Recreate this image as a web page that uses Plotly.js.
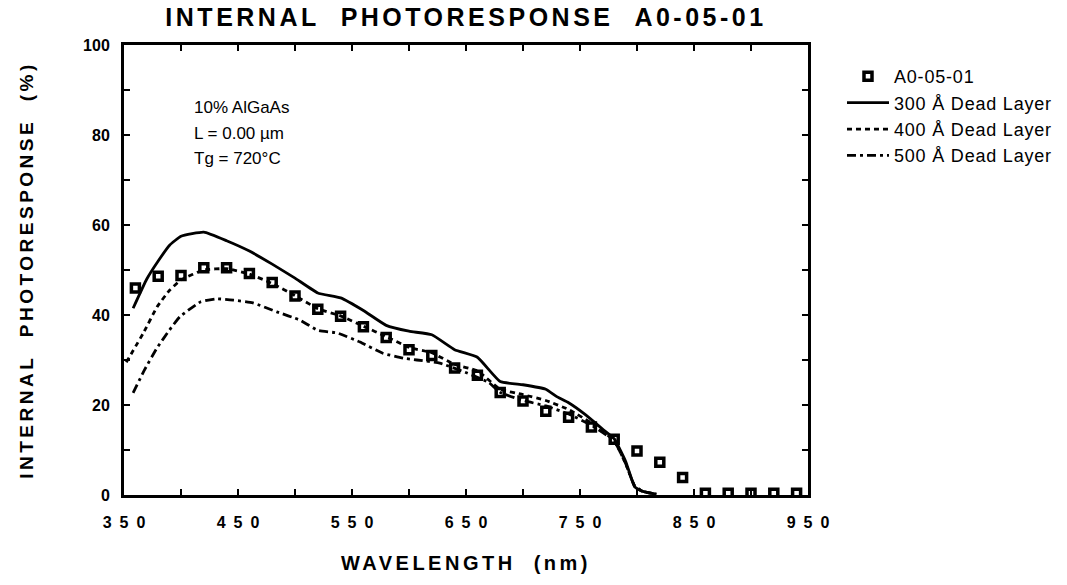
<!DOCTYPE html>
<html>
<head>
<meta charset="utf-8">
<script src="https://cdn.plot.ly/plotly-3.0.1.min.js"></script>
<style>
  html, body { margin: 0; padding: 0; background: #fff; }
  #chart { width: 1067px; height: 585px; }
  .gtitle { letter-spacing: 3.5px; }
  .xtitle, .ytitle { letter-spacing: 3.5px; }
  .legendtext { letter-spacing: 0.8px; }
</style>
</head>
<body>
<div id="chart"></div>
<script>
// ---- Data ----
const measWavelength = [360, 380, 400, 420, 440, 460, 480, 500, 520, 540, 560, 580, 600, 620, 640,
                        660, 680, 700, 720, 740, 760, 780, 800, 820, 840, 860, 880, 900, 920, 940];
const measResponse   = [46.0, 48.6, 48.8, 50.5, 50.5, 49.2, 47.2, 44.2, 41.3, 39.7, 37.4, 35.0, 32.3, 31.0, 28.2,
                        26.6, 22.8, 20.9, 18.6, 17.3, 15.1, 12.4, 9.8, 7.3, 3.9, 0.4, 0.4, 0.4, 0.4, 0.4];

const wl300 = [358, 370, 380, 390, 400, 420, 440, 460, 480, 500, 520, 540, 560, 580, 600, 620, 640,
               660, 680, 700, 720, 730, 740, 755, 770, 780, 790, 798, 805, 817];
const dl300 = [41.5, 48.0, 52.0, 55.5, 57.5, 58.4, 56.5, 54.2, 51.3, 48.2, 44.9, 43.8, 41.0, 37.7, 36.4, 35.6, 32.3,
               30.6, 25.2, 24.5, 23.5, 21.8, 20.5, 17.8, 14.6, 12.5, 7.5, 1.8, 0.8, 0.2];

const wl400 = [352, 367, 379, 390, 400, 420, 440, 460, 480, 500, 520, 540, 560, 580, 600, 620, 640,
               660, 680, 700, 720, 740, 760, 780, 790, 798, 805, 817];
const dl400 = [29.5, 36.0, 41.8, 45.5, 47.8, 50.0, 50.3, 49.1, 47.0, 44.3, 41.4, 39.8, 37.5, 35.2, 32.8, 31.6, 29.0,
               27.6, 23.5, 22.3, 21.0, 19.0, 16.0, 12.0, 7.0, 2.0, 0.8, 0.2];

const wl500 = [358, 368, 379, 390, 399, 417, 431, 446, 463, 484, 504, 520, 537, 557, 577, 595, 607, 627,
               651, 670, 680, 700, 720, 740, 760, 780, 790, 798, 805, 817];
const dl500 = [22.7, 27.8, 32.7, 36.7, 39.6, 42.9, 43.6, 43.3, 42.7, 40.7, 38.9, 36.6, 36.0, 34.0, 31.5, 30.4, 30.0, 29.3,
               27.1, 25.0, 22.8, 21.0, 19.8, 18.0, 15.5, 12.0, 7.0, 2.0, 0.8, 0.2];

const xTickVals = [350, 450, 550, 650, 750, 850, 950];
const xTickText = ['3\u20025\u20020', '4\u20025\u20020', '5\u20025\u20020', '6\u20025\u20020',
                   '7\u20025\u20020', '8\u20025\u20020', '9\u20025\u20020'];

const seriesNames = ['A0-05-01', '300 \u00c5 Dead Layer', '400 \u00c5 Dead Layer', '500 \u00c5 Dead Layer'];
const noteLines = ['10% AlGaAs', 'L = 0.00 \u00b5m', 'Tg = 720\u00b0C'];

const FONT = 'Liberation Sans, Arial, Helvetica, sans-serif';

const traces = [
  {
    x: measWavelength, y: measResponse, name: seriesNames[0],
    type: 'scatter', mode: 'markers',
    marker: { symbol: 'square-open', size: 8, color: '#000', line: { width: 3.5, color: '#000' } }
  },
  {
    x: wl300, y: dl300, name: seriesNames[1], type: 'scatter', mode: 'lines',
    line: { color: '#000', width: 2.8, dash: 'solid', shape: 'spline', smoothing: 0.4 }
  },
  {
    x: wl400, y: dl400, name: seriesNames[2], type: 'scatter', mode: 'lines',
    line: { color: '#000', width: 2.8, dash: '5px,4px', shape: 'spline', smoothing: 0.4 }
  },
  {
    x: wl500, y: dl500, name: seriesNames[3], type: 'scatter', mode: 'lines',
    line: { color: '#000', width: 2.8, dash: '9px,4px,3px,4px', shape: 'spline', smoothing: 0.4 }
  }
];

const noteY = [0.862, 0.803, 0.748];
const annotations = noteLines.map((t, i) => ({
  text: t, xref: 'paper', yref: 'paper', x: 0.099, y: noteY[i],
  xanchor: 'left', yanchor: 'middle', showarrow: false,
  font: { family: FONT, size: 17, color: '#000' }
}));

const layout = {
  width: 1067, height: 585,
  paper_bgcolor: '#fff', plot_bgcolor: '#fff',
  margin: { l: 124, r: 259, t: 45, b: 90, pad: 0, autoexpand: false },
  showlegend: true,
  title: {
    text: 'INTERNAL\u00a0\u00a0PHOTORESPONSE\u00a0\u00a0A0-05-01',
    font: { family: FONT, size: 25, color: '#000', weight: 'bold' },
    xref: 'paper', x: 0.5, xanchor: 'center',
    yref: 'container', y: 0.970, yanchor: 'middle'
  },
  xaxis: {
    range: [350, 950], autorange: false, automargin: false,
    tickmode: 'array', tickvals: xTickVals, ticktext: xTickText,
    ticks: 'inside', ticklen: 6, tickwidth: 2, tickcolor: '#000',
    minor: { tickmode: 'linear', tick0: 350, dtick: 50, ticks: 'inside', ticklen: 6, tickwidth: 2, tickcolor: '#000' },
    showline: true, linewidth: 3, linecolor: '#000', mirror: 'ticks',
    showgrid: false, zeroline: false,
    ticklabelstandoff: 11,
    tickfont: { family: FONT, size: 16, color: '#000', weight: 'bold' },
    title: {
      text: 'WAVELENGTH\u00a0\u00a0(nm)',
      font: { family: FONT, size: 20, color: '#000', weight: 'bold' },
      standoff: 26
    }
  },
  yaxis: {
    range: [0, 100], autorange: false, automargin: false,
    tickmode: 'linear', tick0: 0, dtick: 20,
    ticks: 'inside', ticklen: 6, tickwidth: 2, tickcolor: '#000',
    minor: { tickmode: 'linear', tick0: 0, dtick: 10, ticks: 'inside', ticklen: 6, tickwidth: 2, tickcolor: '#000' },
    showline: true, linewidth: 3, linecolor: '#000', mirror: 'ticks',
    showgrid: false, zeroline: false,
    ticklabelstandoff: 8,
    tickfont: { family: FONT, size: 16, color: '#000', weight: 'bold' },
    title: {
      text: 'INTERNAL\u00a0\u00a0PHOTORESPONSE\u00a0\u00a0(%)',
      font: { family: FONT, size: 19, color: '#000', weight: 'bold' },
      standoff: 45
    }
  },
  legend: {
    x: 1.0497, xanchor: 'left', xref: 'paper',
    y: 0.971, yanchor: 'top', yref: 'paper',
    bgcolor: 'rgba(0,0,0,0)', borderwidth: 0,
    font: { family: FONT, size: 18, color: '#000' },
    itemwidth: 42, tracegroupgap: 0
  },
  annotations: annotations
};

Plotly.newPlot('chart', traces, layout, { displayModeBar: false, staticPlot: true });
</script>
</body>
</html>
